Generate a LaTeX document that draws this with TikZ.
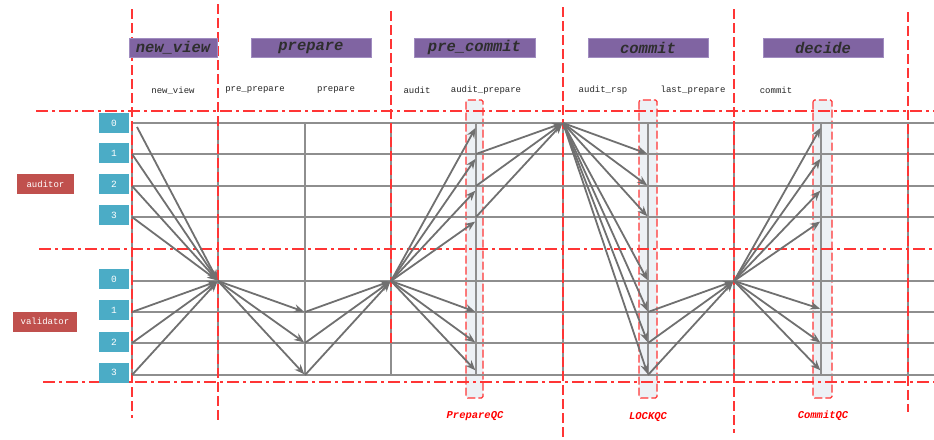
\documentclass[tikz,border=0pt]{standalone}
\usepackage{fontspec}
\setmonofont{Liberation Mono}
\usetikzlibrary{arrows.meta}
\definecolor{hdr}{HTML}{8064A2}
\definecolor{hdrb}{HTML}{A08CC0}
\definecolor{blu}{HTML}{4BACC6}
\definecolor{rlab}{HTML}{C0504D}
\definecolor{rline}{HTML}{FF3535}
\definecolor{gline}{HTML}{8E8E8E}
\definecolor{garr}{HTML}{707070}
\definecolor{colfill}{HTML}{EDF1F5}
\definecolor{htxt}{HTML}{2E2E2E}
\tikzset{
 hdrbox/.style={fill=hdr, draw=hdrb, line width=0.6pt, minimum height=19pt, inner sep=0pt, text=htxt,
   font=\ttfamily\itshape\bfseries\fontsize{15.5}{16}\selectfont},
 sublab/.style={inner sep=0pt, text=black!85, font=\ttfamily\fontsize{9}{10}\selectfont},
 idbox/.style={fill=blu, minimum width=30pt, minimum height=20pt, inner sep=0pt,
   text=white, font=\ttfamily\fontsize{9.5}{10}\selectfont},
 rolebox/.style={fill=rlab, minimum height=20pt, inner sep=0pt, text=white,
   font=\ttfamily\fontsize{9}{10}\selectfont},
 rowline/.style={gline, line width=1.1pt},
 colline/.style={gline, line width=1.1pt},
 reddash/.style={rline, line width=1.2pt, dash pattern=on 10pt off 4pt},
 reddashdot/.style={rline, line width=1.2pt, dash pattern=on 12pt off 4pt on 3pt off 4pt},
 qcbox/.style={fill=colfill, draw=rline, line width=1.1pt, dash pattern=on 8pt off 3pt, rounded corners=1.5pt},
 qclab/.style={inner sep=0pt, text=red, font=\ttfamily\itshape\bfseries\fontsize{10.5}{11}\selectfont},
 msg/.style={garr, line width=1.8pt, shorten >=1pt, -{Stealth[length=10pt,width=8pt]}}
}
\begin{document}
\begin{tikzpicture}[x=1pt,y=-1pt]
\useasboundingbox (0,0) rectangle (934,439);
% grid coordinates
\foreach \r/\yy in {a0/123,a1/154,a2/186,a3/217,v0/281,v1/312,v2/343,v3/375}{
  \foreach \c/\xx in {c1/132,c2/218,c3/305,c4/391,q1/476,c5/563,q2/648,c6/734,q3/821,c7/908}{
    \coordinate (\c\r) at (\xx,\yy);
  }
}
% QC columns
\draw[qcbox] (466,100) rectangle (483,398);
\draw[qcbox] (639,100) rectangle (657,398);
\draw[qcbox] (813,100) rectangle (832,398);
% row lines
\foreach \r in {a0,a1,a2,a3,v0,v1,v2,v3}{
  \draw[rowline] (c1\r) -- ++(802,0);
}
% column lines
\foreach \c in {c1,c2,c3,c4,q1,c5,q2,c6,q3,c7}{
  \draw[colline] (\c a0) -- (\c v3);
}
% red vertical dashed lines
\draw[reddash] (132,9) -- (132,418);
\draw[reddash] (218,4) -- (218,423);
\draw[reddash] (391,11) -- (391,343);
\draw[reddash] (563,7) -- (563,437);
\draw[reddash] (734,9) -- (734,433);
\draw[reddash] (908,12) -- (908,412);
% red dash-dot horizontals
\draw[reddashdot] (36,111) -- (934,111);
\draw[reddashdot] (39,249) -- (934,249);
\draw[reddashdot] (43,382) -- (934,382);
% headers
\node[hdrbox, minimum width=88pt] (hnv) at (173,47.5) {new\_view};
\node[hdrbox, minimum width=120pt] (hpr) at (311,47.5) {prepare};
\node[hdrbox, minimum width=121pt] (hpc) at (474.5,47.5) {pre\_commit};
\node[hdrbox, minimum width=120pt] (hcm) at (648,47.5) {commit};
\node[hdrbox, minimum width=120pt] (hdc) at (823,47.5) {decide};
% sub labels
\node[sublab] (s1) at (173,90.5) {new\_view};
\node[sublab] (s2) at (255,90.5) {pre\_prepare};
\node[sublab] (s3) at (336,90.5) {prepare};
\node[sublab] (s4) at (417,90.5) {audit};
\node[sublab] (s5) at (486,90.5) {audit\_prepare};
\node[sublab] (s6) at (603,90.5) {audit\_rsp};
\node[sublab] (s7) at (693,90.5) {last\_prepare};
\node[sublab] (s8) at (776,90.5) {commit};
% id boxes
\node[idbox] (ia0) at (114,123) {0};
\node[idbox] (ia1) at (114,153) {1};
\node[idbox] (ia2) at (114,184) {2};
\node[idbox] (ia3) at (114,215) {3};
\node[idbox] (iv0) at (114,279) {0};
\node[idbox] (iv1) at (114,310) {1};
\node[idbox] (iv2) at (114,342) {2};
\node[idbox] (iv3) at (114,372.5) {3};
% role boxes
\node[rolebox, minimum width=57pt] (rau) at (45.5,184) {auditor};
\node[rolebox, minimum width=64pt] (rva) at (45,321.5) {validator};
% QC labels
\node[qclab] (lq1) at (475,416) {PrepareQC};
\node[qclab] (lq2) at (648,417) {LOCKQC};
\node[qclab] (lq3) at (823,416) {CommitQC};
% new_view
\draw[msg] ([shift={(5pt,-4pt)}]c1a0) -- (c2v0);
\foreach \s in {c1a1,c1a2,c1a3,c1v1,c1v2,c1v3}{\draw[msg] (\s) -- (c2v0);}
% pre_prepare
\foreach \t in {c3v1,c3v2,c3v3}{\draw[msg] (c2v0) -- (\t);}
% prepare
\foreach \s in {c3v1,c3v2,c3v3}{\draw[msg] (\s) -- (c4v0);}
% audit
\foreach \t in {q1a0,q1a1,q1a2,q1a3}{\draw[msg] (c4v0) -- ([yshift=-4pt]\t);}
\draw[msg] (c4v0) -- (q1v1);
\draw[msg] (c4v0) -- (q1v2);
\draw[msg] (c4v0) -- ([yshift=4pt]q1v3);
% audit_prepare
\foreach \s in {q1a1,q1a2,q1a3}{\draw[msg] (\s) -- (c5a0);}
% audit_rsp
\foreach \t in {q2a1,q2a2,q2a3,q2v0,q2v1,q2v2,q2v3}{\draw[msg] (c5a0) -- (\t);}
% last_prepare
\foreach \s in {q2v1,q2v2,q2v3}{\draw[msg] (\s) -- (c6v0);}
% commit
\foreach \t in {q3a0,q3a1,q3a2,q3a3}{\draw[msg] (c6v0) -- ([yshift=-4pt]\t);}
\draw[msg] (c6v0) -- ([yshift=3pt]q3v1);
\draw[msg] (c6v0) -- (q3v2);
\draw[msg] (c6v0) -- ([yshift=4pt]q3v3);
\end{tikzpicture}
\end{document}
